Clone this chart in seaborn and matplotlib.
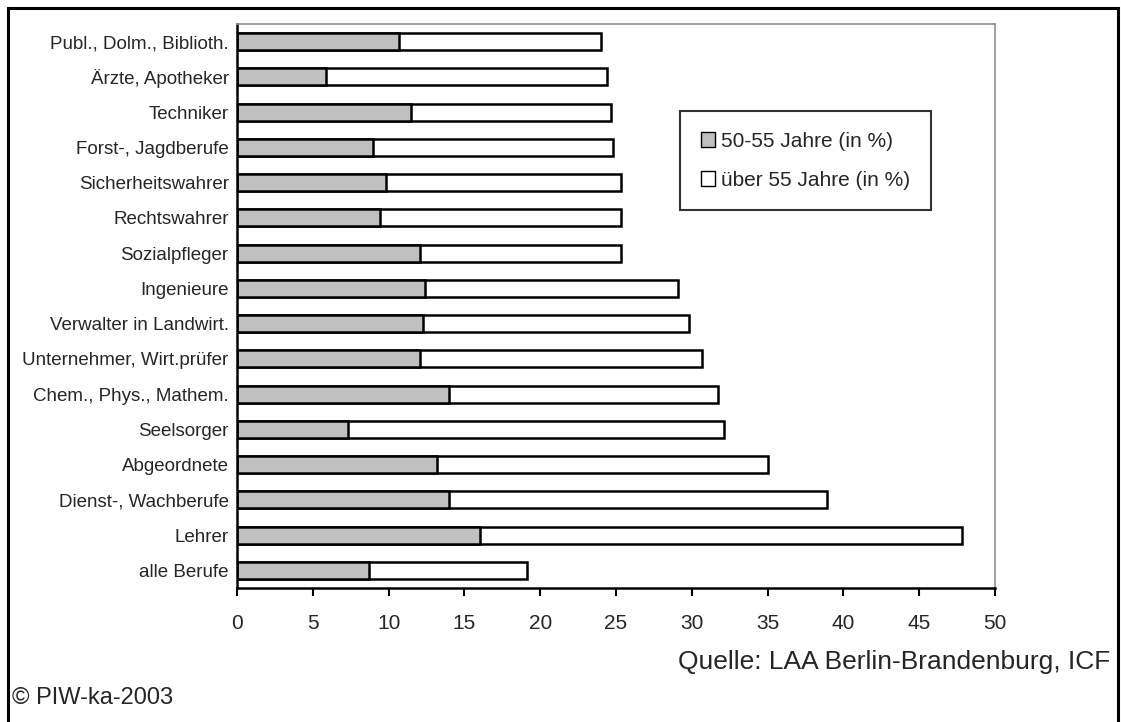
import numpy as np
import pandas as pd
import matplotlib.pyplot as plt
import seaborn as sns
from matplotlib.patches import Patch, Rectangle

# Data
berufe = ['Publ., Dolm., Biblioth.', 'Ärzte, Apotheker', 'Techniker', 'Forst-, Jagdberufe',
          'Sicherheitswahrer', 'Rechtswahrer', 'Sozialpfleger', 'Ingenieure',
          'Verwalter in Landwirt.', 'Unternehmer, Wirt.prüfer', 'Chem., Phys., Mathem.',
          'Seelsorger', 'Abgeordnete', 'Dienst-, Wachberufe', 'Lehrer', 'alle Berufe']
jahre_50_55 = [10.7, 5.9, 11.5, 9.0, 9.8, 9.4, 12.1, 12.4,
               12.3, 12.1, 14.0, 7.3, 13.2, 14.0, 16.0, 8.7]
gesamt = [24.0, 24.4, 24.7, 24.8, 25.3, 25.3, 25.3, 29.1,
          29.8, 30.7, 31.7, 32.1, 35.0, 38.9, 47.8, 19.1]
x_ticks = list(range(0, 51, 5))

df = pd.DataFrame({'beruf': berufe, 'a': jahre_50_55, 'gesamt': gesamt})

sns.set_style('white')
plt.rcParams['font.family'] = ['Liberation Sans', 'DejaVu Sans']

fig = plt.figure(figsize=(11.21, 7.22), dpi=100)
ax = fig.add_axes([237 / 1121, 1 - 588 / 722, (995 - 237) / 1121, (588 - 24) / 722])

# total bar (white) first, then the 50-55 part on top of it
sns.barplot(data=df, x='gesamt', y='beruf', orient='h', color='white',
            edgecolor='black', linewidth=1.8, width=0.48, ax=ax, saturation=1)
sns.barplot(data=df, x='a', y='beruf', orient='h', color='#c0c0c0',
            edgecolor='black', linewidth=1.8, width=0.48, ax=ax, saturation=1)

ax.set_xlim(0, 50)
ax.set_ylim(len(berufe) - 0.5, -0.5)
ax.set_xticks(x_ticks)
ax.set_xlabel('')
ax.set_ylabel('')
ax.set_yticks(np.arange(-0.5, len(berufe), 1), minor=True)
ax.tick_params(axis='y', which='major', length=0, pad=6, labelsize=13.5)
ax.tick_params(axis='y', which='minor', length=6, width=1.5, direction='out', color='black')
ax.tick_params(axis='x', which='major', length=6, width=1.5, direction='out',
               labelsize=15, pad=13, color='black', bottom=True)

for side in ['left', 'bottom']:
    ax.spines[side].set_color('black')
    ax.spines[side].set_linewidth(1.8)
for side in ['top', 'right']:
    ax.spines[side].set_color('#909090')
    ax.spines[side].set_linewidth(1.2)

handles = [Patch(facecolor='#c0c0c0', edgecolor='black', label='50-55 Jahre (in %)'),
           Patch(facecolor='white', edgecolor='black', label='über 55 Jahre (in %)')]
leg = fig.legend(handles=handles, loc='upper left', bbox_to_anchor=(680 / 1121, 1 - 111 / 722),
                 fontsize=15, frameon=True, fancybox=False, edgecolor='black',
                 handlelength=0.7, handleheight=0.7, handletextpad=0.25,
                 labelspacing=0.95, borderpad=1.0, borderaxespad=0)
leg.get_frame().set_linewidth(1.5)

fig.text(1110 / 1121, 1 - 662 / 722, 'Quelle: LAA Berlin-Brandenburg, ICF',
         ha='right', va='center', fontsize=19)
fig.text(12 / 1121, 1 - 698 / 722, '© PIW-ka-2003', ha='left', va='center', fontsize=17)

fig.add_artist(Rectangle((8 / 1121, -10 / 722), 1110 / 1121, 724 / 722,
                         transform=fig.transFigure, fill=False, edgecolor='black', linewidth=2.2))

fig.savefig('out.png', dpi=100)
